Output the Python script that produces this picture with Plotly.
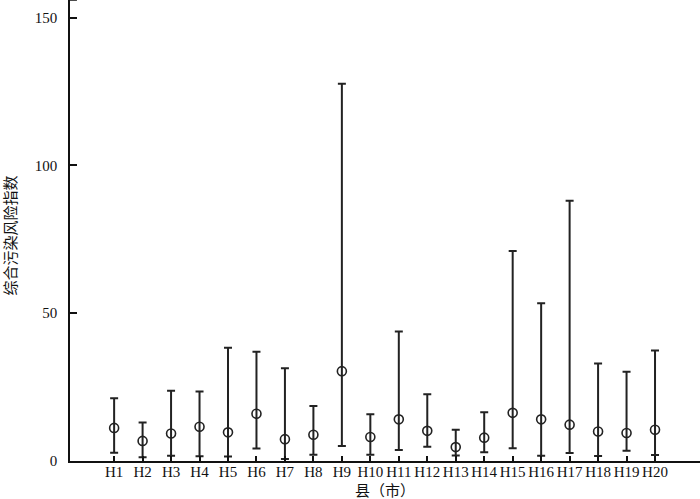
import plotly.graph_objects as go

categories = [f"H{i}" for i in range(1, 21)]
mean_vals = [11.2, 6.8, 9.3, 11.6, 9.7, 16.0, 7.4, 8.9, 30.4, 8.1,
             14.1, 10.2, 4.7, 7.9, 16.3, 14.1, 12.3, 10.0, 9.5, 10.6]
max_vals = [21.2, 13.0, 23.8, 23.5, 38.3, 37.0, 31.4, 18.6, 127.7, 15.8,
            43.8, 22.6, 10.6, 16.5, 71.1, 53.4, 88.1, 33.0, 30.2, 37.4]
min_vals = [2.8, 1.25, 1.8, 1.6, 1.5, 4.2, 0.7, 2.1, 5.1, 2.1,
            3.7, 4.8, 1.9, 3.0, 4.3, 1.8, 2.7, 1.7, 3.5, 2.0]
y_ticks = [0, 50, 100, 150]

err_plus = [mx - m for mx, m in zip(max_vals, mean_vals)]
err_minus = [m - mn for m, mn in zip(mean_vals, min_vals)]

fig = go.Figure()
fig.add_trace(go.Scatter(
    x=list(range(len(categories))), y=mean_vals, mode="markers",
    marker=dict(symbol="circle-open", size=9, color="#222222", line=dict(width=1.6, color="#222222")),
    error_y=dict(type="data", symmetric=False, array=err_plus, arrayminus=err_minus,
                 color="#222222", thickness=2, width=4),
    showlegend=False,
))

serif = "Liberation Serif, Times New Roman, serif"
cjk = "Noto Sans CJK SC"
fig.update_layout(
    width=700, height=499,
    margin=dict(l=70, r=0, t=0, b=38, autoexpand=False),
    paper_bgcolor="white", plot_bgcolor="white",
    font=dict(family=serif, size=15, color="#111111"),
    xaxis=dict(
        range=[-1.55, 20.58], tickmode="array",
        tickvals=list(range(len(categories))), ticktext=categories,
        showgrid=False, zeroline=False, showline=True, linecolor="#111111", linewidth=1.5,
        ticks="inside", ticklen=5, tickwidth=1.5, tickcolor="#111111",
        tickfont=dict(family=serif, size=15), ticklabelstandoff=-4, automargin=False,
    ),
    yaxis=dict(
        range=[0, 156], tickmode="array", tickvals=y_ticks,
        showgrid=False, zeroline=False, showline=True, linecolor="#111111", linewidth=1.5,
        ticks="inside", ticklen=7, tickwidth=1.5, tickcolor="#111111",
        tickfont=dict(family=serif, size=15), ticklabelstandoff=8, automargin=False,
    ),
    annotations=[
        dict(text="县（市）", xref="paper", yref="paper", x=0.5, y=-0.0615,
             xanchor="center", yanchor="middle", showarrow=False,
             font=dict(family=cjk, size=15)),
        dict(text="综合污染风险指数", xref="paper", x=-0.096, yref="paper", y=0.488,
             xanchor="center", yanchor="middle", textangle=-90, showarrow=False,
             font=dict(family=cjk, size=15)),
    ],
)
fig.add_shape(type="line", xref="paper", yref="paper", x0=0, x1=0.011, y0=1, y1=1,
              line=dict(color="#111111", width=1.5))

fig.write_html("out.html", config={"displayModeBar": False},
               post_script="document.body.style.margin='0';")
